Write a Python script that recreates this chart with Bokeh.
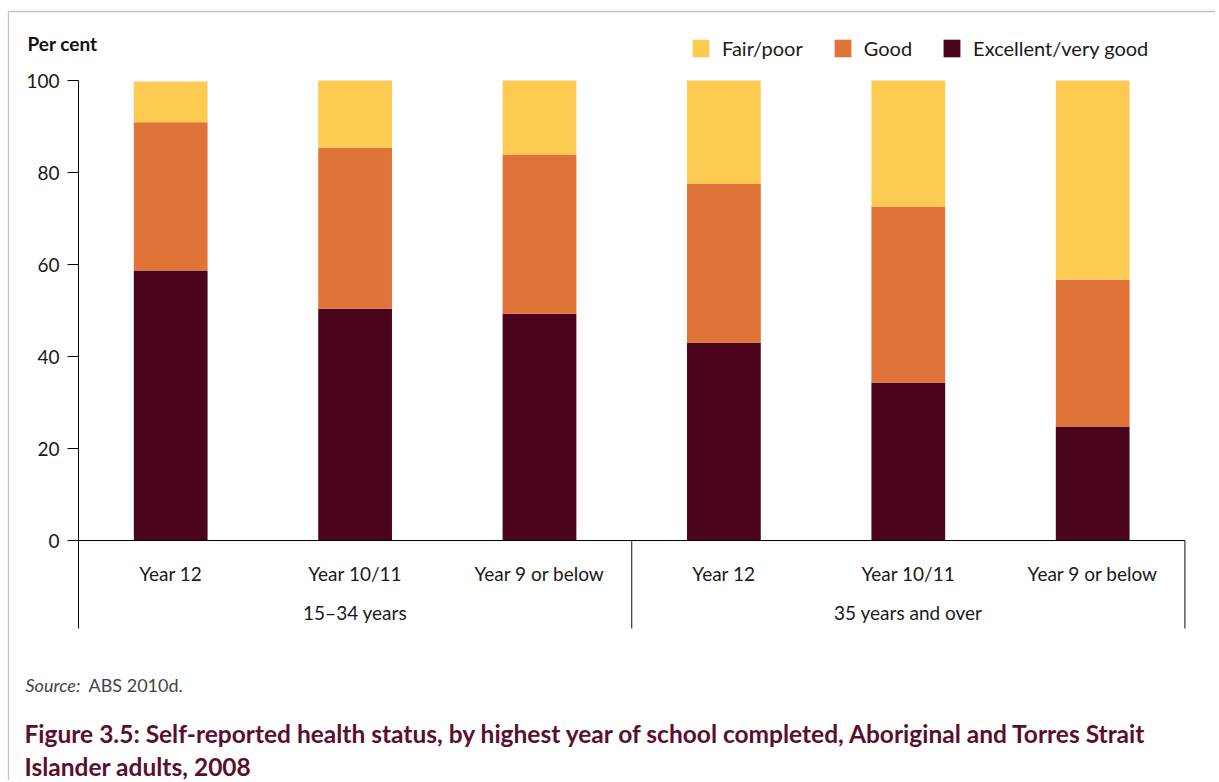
from bokeh.plotting import figure
from bokeh.models import (ColumnDataSource, Range1d, FixedTicker, Label, Legend, LegendItem)
from bokeh.core.properties import value
from bokeh.embed import file_html
from bokeh.resources import INLINE

# ---- data ----
groups = ["15–34 years", "35 years and over"]
schooling = ["Year 12", "Year 10/11", "Year 9 or below"]
excellent = [58.7, 50.4, 49.3, 43.0, 34.3, 24.8]
good = [32.2, 35.0, 34.6, 34.6, 38.3, 31.9]
fair = [8.9, 14.6, 16.1, 22.4, 27.4, 43.3]
y_ticks = [0, 20, 40, 60, 80, 100]
series_names = ["Excellent/very good", "Good", "Fair/poor"]
colors = ["#4a041c", "#e07337", "#fecb52"]

cat_labels = [s for g in groups for s in schooling]
n = len(cat_labels)
slot_x = [i + 0.5 for i in range(n)]                      # category centres
group_x = [len(schooling) * (k + 0.5) for k in range(len(groups))]
group_edges = [len(schooling) * (k + 1) for k in range(len(groups))]

FONT = "Lato"
W, H = 1215, 780
# layout: pixel positions of axis origin and scale
X0, SLOT = 78.0, 184.4       # x pixel of category 0 edge, pixels per category
Y0, PPU = 540.0, 4.6         # y pixel of value 0, pixels per percent


def X(px):
    return (px - X0) / SLOT


def Y(py):
    return (Y0 - py) / PPU


SEP_BOTTOM = Y(628)

p = figure(width=W, height=H, output_backend="svg", toolbar_location=None,
           x_range=Range1d(X(0), X(W)), y_range=Range1d(Y(H), Y(0)),
           x_axis_location=None, min_border=0, min_border_left=0, min_border_right=0,
           min_border_top=0, min_border_bottom=0)
p.outline_line_color = None
p.grid.visible = False
p.background_fill_color = "white"
p.border_fill_color = "white"

src = ColumnDataSource(dict(x=slot_x, exc=excellent, good=good, fair=fair))
rs = p.vbar_stack(["exc", "good", "fair"], x="x", width=0.40, color=colors,
                  line_color=None, source=src)

# y axis drawn at x = 0 inside the frame
ya = p.yaxis[0]
ya.fixed_location = 0
ya.bounds = (SEP_BOTTOM, 100)
ya.ticker = FixedTicker(ticks=y_ticks)
ya.axis_line_color = "black"
ya.axis_line_width = 1
ya.major_tick_line_color = "black"
ya.major_tick_out = 11
ya.major_tick_in = 0
ya.minor_tick_line_color = None
ya.major_label_text_font = FONT
ya.major_label_text_font_size = "19px"
ya.major_label_text_color = "#1a1a1a"
ya.major_label_standoff = 8

# baseline and group separators
p.segment(x0=[0], x1=[n], y0=[0], y1=[0], line_color="black", line_width=1)
p.segment(x0=group_edges, x1=group_edges, y0=[0] * len(group_edges),
          y1=[SEP_BOTTOM] * len(group_edges), line_color="#333333", line_width=1.2)

# page frame (grey box)
p.segment(x0=[X(8), X(8)], x1=[X(W), X(8)], y0=[Y(11), Y(11)], y1=[Y(11), Y(H)],
          line_color="#c4c4c4", line_width=1.3)

# category labels
p.text(x=slot_x, y=[Y(573)] * n, text=cat_labels, text_align="center",
       text_baseline="middle", text_font=value(FONT), text_font_size="19px",
       text_color="#1a1a1a")
p.text(x=group_x, y=[Y(612)] * len(groups), text=groups, text_align="center",
       text_baseline="middle", text_font=value(FONT), text_font_size="19px",
       text_color="#1a1a1a")

# legend
items = [LegendItem(label=series_names[i], renderers=[rs[i]]) for i in (2, 1, 0)]
legend = Legend(items=items, orientation="horizontal", location=(690, H - 60),
                glyph_width=21, glyph_height=22, label_standoff=11, spacing=29,
                padding=0, margin=0, border_line_color=None, background_fill_alpha=0,
                label_text_font=FONT, label_text_font_size="20px",
                label_text_color="#1a1a1a", label_height=22)
p.add_layout(legend)

# other texts
p.add_layout(Label(x=X(27), y=Y(43), text="Per cent", text_font=FONT,
                   text_font_style="bold", text_font_size="19px",
                   text_baseline="middle", text_color="#111111"))
p.add_layout(Label(x=X(25), y=Y(684), text="Source:", text_font=FONT,
                   text_font_style="italic", text_font_size="18px",
                   text_baseline="alphabetic", text_color="#444444"))
p.add_layout(Label(x=X(88), y=Y(684), text="ABS 2010d.", text_font=FONT,
                   text_font_size="18px", text_baseline="alphabetic",
                   text_color="#444444"))
TFONT = "Lato"
p.add_layout(Label(x=X(24), y=Y(733),
                   text="Figure 3.5: Self-reported health status, by highest year of school completed, Aboriginal and Torres Strait",
                   text_font=TFONT, text_font_style="bold", text_font_size="24.5px",
                   text_baseline="alphabetic", text_color="#5b0f2e"))
p.add_layout(Label(x=X(24), y=Y(766), text="Islander adults, 2008",
                   text_font=TFONT, text_font_style="bold", text_font_size="24.5px",
                   text_baseline="alphabetic", text_color="#5b0f2e"))

open("out.html", "w").write(file_html(p, INLINE))
